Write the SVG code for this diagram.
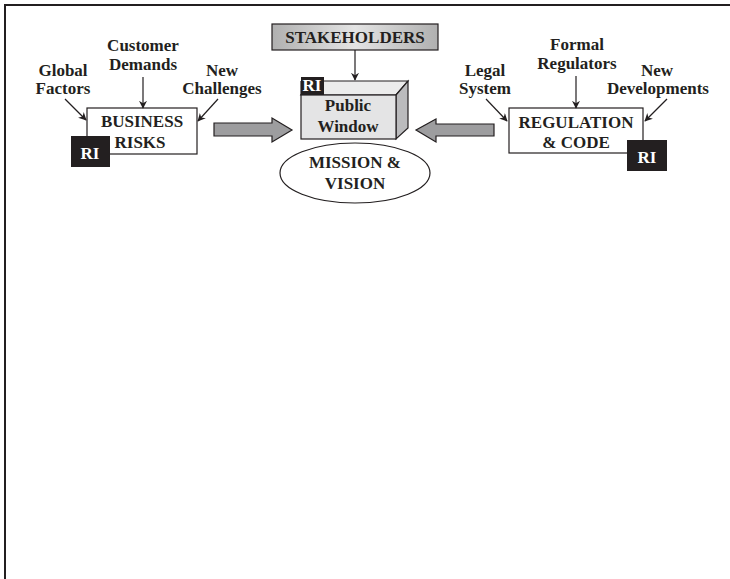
<svg xmlns="http://www.w3.org/2000/svg" width="730" height="579" viewBox="0 0 730 579">
<defs>
<style>
text{font-family:"Liberation Serif","Times New Roman",serif;font-weight:bold;font-size:17px;fill:#231f20;text-anchor:middle}
.w{fill:#fff}
.box{fill:#fff;stroke:#231f20;stroke-width:1.2}
.ri{fill:#231f20}
.ln{stroke:#231f20;stroke-width:1.2;fill:none;marker-end:url(#ah)}
.big{fill:#9d9d9f;stroke:#231f20;stroke-width:1.2}
</style>
<marker id="ah" viewBox="0 0 10 10" refX="9" refY="5" markerWidth="8" markerHeight="8" markerUnits="userSpaceOnUse" orient="auto">
<path d="M0,0 L10,5 L0,10 L3,5 Z" fill="#231f20"/>
</marker>
<linearGradient id="sg" x1="0" y1="0" x2="1" y2="0">
<stop offset="0" stop-color="#b0b0b0"/>
<stop offset="0.5" stop-color="#e4e4e4"/>
<stop offset="1" stop-color="#b0b0b0"/>
</linearGradient>
</defs>
<rect width="730" height="579" fill="#fff"/>
<path d="M5,579 V5 H730" fill="none" stroke="#231f20" stroke-width="2"/>

<g id="global-factors"><text x="63" y="76">Global</text><text x="63" y="94">Factors</text></g>
<g id="customer-demands"><text x="143" y="51">Customer</text><text x="143" y="70">Demands</text></g>
<g id="new-challenges"><text x="222" y="76">New</text><text x="222" y="94">Challenges</text></g>
<g id="business-risks">
<rect class="box" x="87" y="108" width="110" height="46"/>
<text x="142" y="127">BUSINESS</text><text x="140" y="148">RISKS</text>
<rect class="ri" x="71" y="136" width="39" height="31"/>
<text class="w" x="90" y="159">RI</text>
</g>

<g id="stakeholders">
<rect x="272" y="24" width="166" height="26" fill="url(#sg)" stroke="#231f20" stroke-width="1.2"/>
<text x="355" y="43">STAKEHOLDERS</text>
</g>
<g id="public-window">
<polygon points="301,95 313,81 408,81 396,95" fill="#ececec" stroke="#231f20" stroke-width="1.2"/>
<polygon points="396,95 408,81 408,128 396,139" fill="#bbbbbd" stroke="#231f20" stroke-width="1.2"/>
<rect x="301" y="95" width="95" height="44" fill="#e4e4e5" stroke="#231f20" stroke-width="1.2"/>
<rect x="301" y="81" width="12" height="14" fill="#ececec"/>
<path d="M301,81 V95" stroke="#231f20" stroke-width="1.2"/>
<rect class="ri" x="301" y="77" width="23" height="18"/>
<text class="w" x="312" y="91">RI</text>
<text x="348" y="111">Public</text><text x="348" y="132">Window</text>
</g>
<g id="mission-vision">
<ellipse cx="355" cy="173" rx="75" ry="30" fill="#fff" stroke="#231f20" stroke-width="1.2"/>
<text x="355" y="168">MISSION &amp;</text><text x="355" y="189">VISION</text>
</g>

<g id="legal-system"><text x="485" y="76">Legal</text><text x="485" y="94">System</text></g>
<g id="formal-regulators"><text x="577" y="50">Formal</text><text x="577" y="69">Regulators</text></g>
<g id="new-developments"><text x="657" y="76">New</text><text x="658" y="94">Developments</text></g>
<g id="regulation-code">
<rect class="box" x="509" y="108" width="134" height="45"/>
<text x="576" y="128">REGULATION</text><text x="576" y="148">&amp; CODE</text>
<rect class="ri" x="627" y="140" width="40" height="31"/>
<text class="w" x="647" y="163">RI</text>
</g>

<g id="connectors">
<path class="ln" d="M65,99 L86,120"/>
<path class="ln" d="M143,77 V108"/>
<path class="ln" d="M218,99 L198,121"/>
<path class="ln" d="M355,50 V80"/>
<path class="ln" d="M486,99 L507,121"/>
<path class="ln" d="M576,76 V108"/>
<path class="ln" d="M667,99 L645,121"/>
<polygon class="big" points="214,123 272,123 272,118 292,130 272,142 272,136 214,136"/>
<polygon class="big" points="494,124 436,124 436,119 416,130 436,142 436,136 494,136"/>
</g>
</svg>
